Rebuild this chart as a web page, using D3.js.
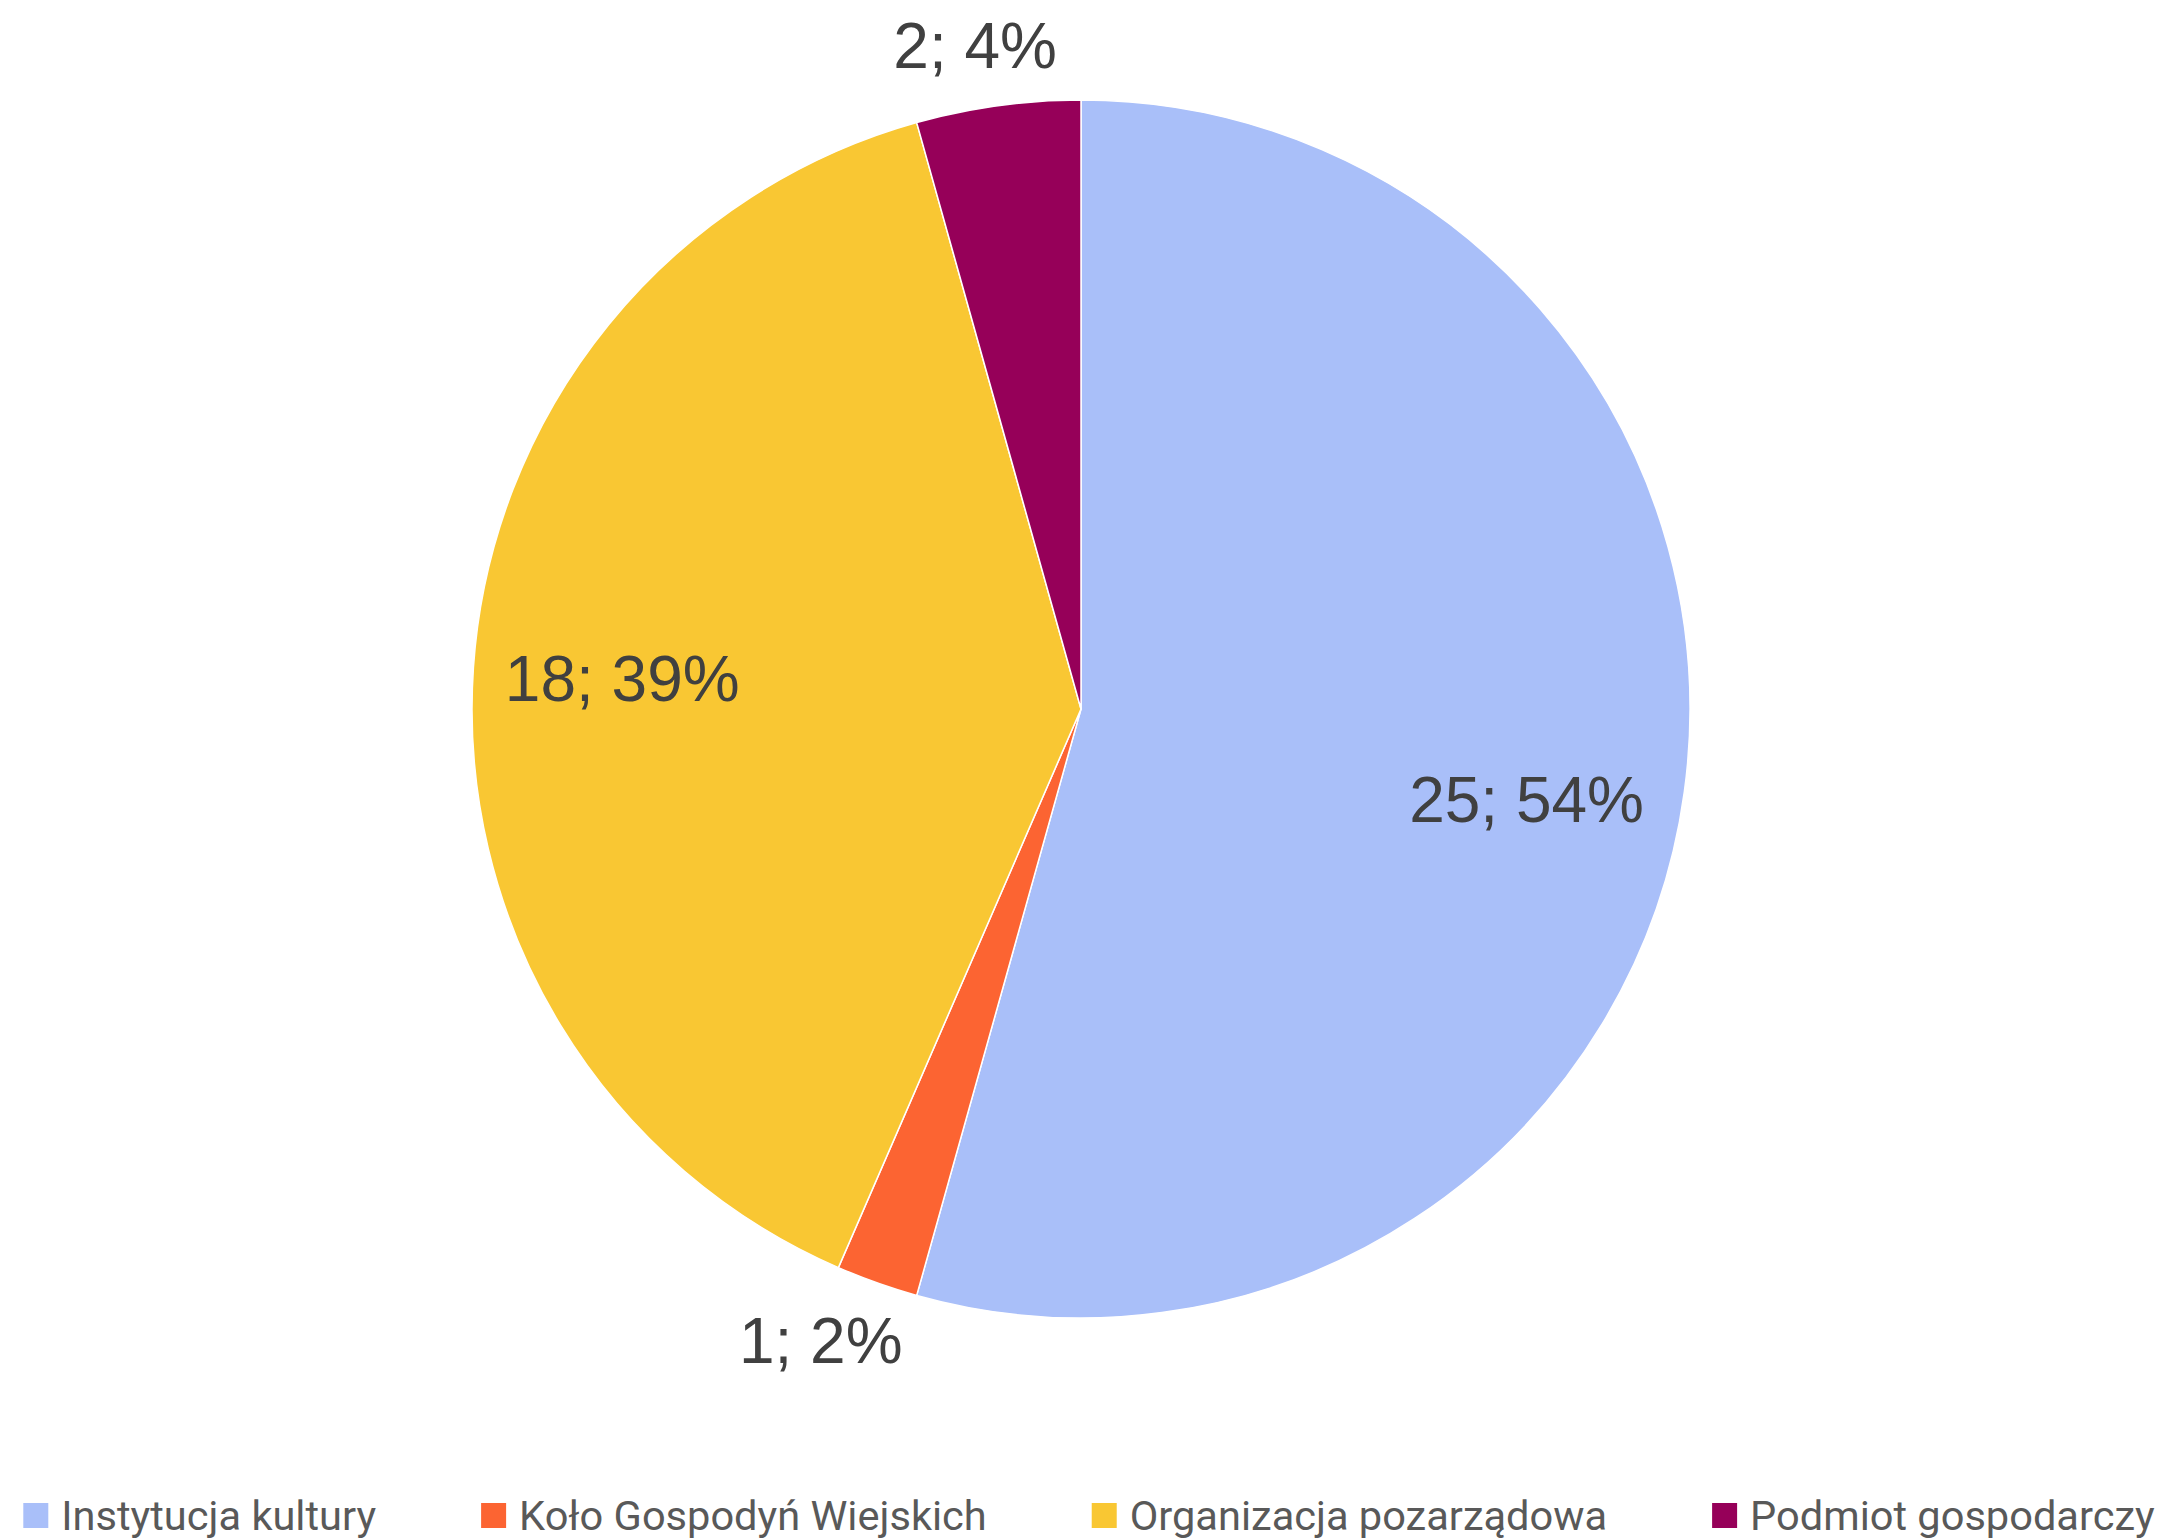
<!DOCTYPE html>
<html>
<head>
<meta charset="utf-8">
<script src="https://cdn.jsdelivr.net/npm/d3@7"></script>
<style>
html,body{margin:0;padding:0;background:#fff;}
svg{display:block;}
</style>
</head>
<body>
<svg id="chart" width="2171" height="1539"></svg>
<script>
const categories = ["Instytucja kultury", "Koło Gospodyń Wiejskich", "Organizacja pozarządowa", "Podmiot gospodarczy"];
const values = [25, 1, 18, 2];
const colors = ["#A9BFF9", "#FC6432", "#F9C733", "#960059"];

const W = 2171, H = 1539;
const cx = 1081, cy = 709, R = 609;
const svg = d3.select("#chart");

const total = d3.sum(values);
const data = categories.map((c, i) => ({cat: c, value: values[i], color: colors[i]}));

const pie = d3.pie().sort(null).value(d => d.value);
const arcs = pie(data);
const arc = d3.arc().innerRadius(0).outerRadius(R);

const g = svg.append("g").attr("transform", `translate(${cx},${cy})`);
g.selectAll("path.slice").data(arcs).enter().append("path")
  .attr("class", "slice")
  .attr("d", arc)
  .attr("fill", d => d.data.color)
  .attr("stroke", "#ffffff")
  .attr("stroke-width", 1.5)
  .attr("stroke-linejoin", "round");

// data labels
const labelFont = 64;
const capH = labelFont * 0.716;
g.selectAll("text.lbl").data(arcs).enter().append("text")
  .attr("class", "lbl")
  .attr("text-anchor", "middle")
  .attr("font-family", "'Liberation Sans', Arial, sans-serif")
  .attr("font-size", labelFont)
  .attr("fill", "#404040")
  .text(d => d.data.value + "; " + Math.round(d.data.value / total * 100) + "%")
  .each(function(d) {
    const frac = d.data.value / total;
    const a = (d.startAngle + d.endAngle) / 2;
    const s = Math.sin(a), c = -Math.cos(a);
    let x, y;
    if (frac < 0.1) {
      const w = this.getComputedTextLength();
      const rr = R + 21;
      x = s * rr + s * w * 0.9;
      y = c * rr + c * 40;
    } else {
      const rr = R * 0.755;
      x = s * rr - 5 * (1 + s);
      y = c * rr + 14 * (1 + s);
    }
    d3.select(this).attr("x", x).attr("y", y + capH / 2);
  });

// legend
const sq = 25;
const sqGap = 13;
const itemGap = 105;
const legY = 1530; // baseline
const legLeft = 23, legRight = 2155;
const leg = svg.append("g");
const items = leg.selectAll("g.item").data(data).enter().append("g").attr("class", "item");
items.append("rect")
  .attr("width", sq).attr("height", sq)
  .attr("y", legY - sq - 2)
  .attr("fill", d => d.color);
let legFont = 44;
const legTexts = items.append("text")
  .attr("x", sq + sqGap)
  .attr("y", legY)
  .attr("font-family", "Roboto, 'Noto Sans', sans-serif")
  .attr("font-size", legFont)
  .attr("fill", "#595959")
  .text(d => d.cat);
function layoutLegend() {
  const widths = [];
  items.each(function() {
    widths.push(d3.select(this).select("text").node().getComputedTextLength() + sq + sqGap);
  });
  return widths;
}
let widths = layoutLegend();
let span = d3.sum(widths) + itemGap * (widths.length - 1);
const avail = legRight - legLeft;
if (span > avail) {
  const textSum = d3.sum(widths) - widths.length * (sq + sqGap);
  const needText = avail - itemGap * (widths.length - 1) - widths.length * (sq + sqGap);
  legFont = legFont * needText / textSum;
  legTexts.attr("font-size", legFont);
  widths = layoutLegend();
  span = d3.sum(widths) + itemGap * (widths.length - 1);
}
let x0 = legLeft + (avail - span) / 2;
items.each(function(d, i) {
  d3.select(this).attr("transform", `translate(${x0},0)`);
  x0 += widths[i] + itemGap;
});
</script>
</body>
</html>
